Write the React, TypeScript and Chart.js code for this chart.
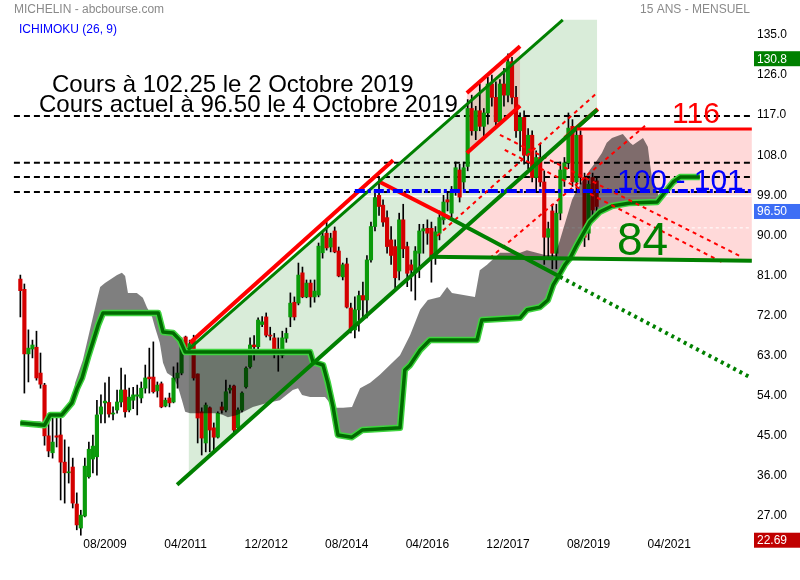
import React, { useEffect, useRef } from 'react';
import { Chart, registerables } from 'chart.js';

Chart.register(...registerables);

const FONT = '"Liberation Sans", Arial, Helvetica, sans-serif';
Chart.defaults.font.family = FONT;

// ---- texts ----
const TITLE = 'MICHELIN - abcbourse.com';
const SUBTITLE = '15 ANS - MENSUEL';
const INDICATOR = 'ICHIMOKU (26, 9)';
const NOTE_1 = 'Cours à 102.25 le 2 Octobre 2019';
const NOTE_2 = 'Cours actuel à 96.50 le 4 Octobre 2019';

// ---- axes (x = months counted from Jan 2000) ----
const X_TICKS = [115, 135, 155, 175, 195, 215, 235, 255];
const Y_TICKS = [27, 36, 45, 54, 63, 72, 81, 90, 99, 108, 117, 126, 135];
const X_MIN = 88.95;
const X_MAX = 275.55;
const Y_MIN = 22.29;
const Y_MAX = 142.86;

// ---- monthly candles, Nov 2007 .. Oct 2019 ----
const FIRST_MONTH = 94;
const OPEN = [
  80.2, 77.9, 63.4, 64.5, 64.9, 59.1, 56.4, 45.0, 41.2, 45.0,
  45.2, 39.1, 36.7, 38.0, 29.7, 24.3, 27.0, 35.8, 39.8, 40.3,
  49.9, 52.4, 52.5, 49.9, 50.8, 52.6, 55.3, 50.8, 53.0, 53.9,
  53.5, 55.7, 58.2, 58.2, 55.1, 56.7, 51.7, 53.5, 52.6, 58.0,
  59.1, 67.2, 63.8, 66.5, 58.9, 50.4, 43.4, 51.3, 46.8, 44.7,
  51.5, 50.8, 55.3, 56.2, 46.8, 50.8, 56.0, 60.5, 65.4, 65.0,
  70.0, 71.7, 67.6, 67.0, 64.5, 63.1, 66.9, 71.7, 75.0, 74.8,
  81.6, 76.2, 79.3, 76.2, 76.6, 86.1, 90.5, 87.4, 91.0, 86.5,
  80.7, 83.6, 73.7, 68.8, 73.3, 76.5, 75.5, 84.5, 92.0, 99.0,
  96.8, 94.0, 89.0, 87.5, 82.0, 93.5, 87.5, 83.4, 82.0, 86.0,
  91.0, 91.6, 91.6, 85.5, 90.5, 93.5, 98.0, 95.0, 100.5, 104.7,
  102.0, 105.5, 118.5, 113.5, 118.0, 114.5, 117.5, 124.0, 121.0, 115.5,
  124.0, 121.5, 129.0, 121.0, 113.5, 116.5, 108.0, 112.5, 103.0, 107.5,
  102.0, 89.6, 95.5, 86.0, 95.0, 102.5, 106.3, 114.5, 102.0, 112.5,
  103.0, 90.5, 103.0, 102.25,
];
const HIGH = [
  81.1, 79.1, 68.8, 66.5, 68.5, 63.6, 56.8, 49.2, 49.2, 49.0,
  49.0, 44.1, 42.5, 40.0, 32.2, 28.3, 40.0, 43.6, 45.2, 53.0,
  54.2, 56.9, 58.2, 51.5, 55.3, 60.2, 58.7, 55.7, 55.9, 56.4,
  57.1, 60.9, 64.7, 66.1, 57.1, 57.1, 53.5, 54.6, 60.5, 61.4,
  67.0, 67.4, 66.5, 67.6, 58.9, 51.3, 52.4, 51.5, 47.9, 50.4,
  52.6, 57.5, 56.4, 56.4, 51.3, 54.9, 60.5, 67.0, 67.5, 71.5,
  71.8, 72.6, 69.4, 68.0, 67.0, 68.5, 69.2, 77.1, 76.2, 83.8,
  82.9, 80.0, 80.0, 80.0, 88.3, 90.8, 93.0, 90.5, 91.9, 87.4,
  83.8, 84.9, 74.8, 76.2, 77.5, 79.5, 85.5, 93.0, 99.5, 103.0,
  98.0, 95.5, 92.0, 89.0, 95.0, 97.0, 88.5, 84.5, 87.5, 92.5,
  92.5, 93.5, 93.0, 92.0, 95.5, 99.0, 99.5, 101.0, 106.5, 106.0,
  106.5, 120.5, 121.5, 119.0, 124.0, 118.5, 125.5, 126.0, 124.5, 125.0,
  127.5, 130.8, 130.0, 123.5, 117.5, 118.0, 114.0, 113.5, 109.0, 110.5,
  104.5, 93.0, 97.0, 97.0, 106.5, 107.5, 117.5, 116.0, 114.0, 113.5,
  104.0, 103.0, 104.0, 103.0,
];
const LOW = [
  71.7, 54.6, 57.1, 62.5, 57.5, 55.7, 42.9, 40.3, 40.0, 42.5,
  30.6, 29.9, 34.4, 28.8, 23.9, 22.69, 26.8, 35.5, 36.7, 36.2,
  47.9, 47.9, 49.2, 48.6, 50.1, 51.5, 49.2, 50.4, 51.1, 49.7,
  52.4, 54.6, 54.6, 54.6, 53.7, 51.3, 51.5, 51.5, 52.4, 55.7,
  58.7, 63.6, 63.6, 57.5, 43.4, 40.7, 41.4, 41.4, 41.4, 44.5,
  50.1, 50.4, 54.6, 45.9, 46.3, 50.4, 55.7, 60.2, 62.0, 64.5,
  69.5, 67.2, 66.5, 62.5, 59.5, 62.5, 66.0, 69.5, 71.0, 74.4,
  76.0, 76.0, 73.9, 75.0, 76.2, 84.9, 86.7, 86.3, 86.1, 80.7,
  80.0, 73.7, 68.1, 67.0, 68.5, 71.0, 71.5, 84.0, 91.0, 94.5,
  92.0, 86.0, 83.5, 77.5, 80.0, 85.0, 78.5, 77.5, 75.5, 80.5,
  86.0, 88.0, 79.5, 83.5, 89.0, 92.5, 95.5, 93.5, 99.0, 97.5,
  100.5, 104.5, 112.5, 111.5, 113.5, 111.5, 115.0, 119.0, 114.0, 115.0,
  119.0, 120.0, 119.5, 112.0, 109.0, 106.0, 105.0, 102.0, 100.0, 101.0,
  83.5, 85.0, 82.5, 82.5, 93.5, 101.0, 105.0, 101.0, 100.0, 101.5,
  87.5, 89.0, 94.5, 95.0,
];
const CLOSE = [
  77.6, 63.4, 64.7, 65.4, 58.0, 56.6, 45.0, 41.6, 43.6, 44.7,
  39.1, 36.7, 36.9, 29.9, 25.0, 27.2, 38.2, 42.0, 42.7, 49.7,
  51.5, 52.8, 49.9, 50.1, 52.6, 55.3, 50.4, 53.7, 54.2, 54.2,
  55.7, 58.0, 57.8, 54.9, 56.4, 51.5, 53.0, 52.4, 58.0, 59.1,
  66.5, 63.8, 65.7, 58.0, 49.0, 44.5, 51.9, 46.3, 44.7, 50.1,
  50.8, 54.9, 55.7, 46.3, 50.8, 54.6, 60.2, 65.4, 65.0, 71.0,
  70.6, 67.6, 67.4, 64.3, 63.5, 67.0, 68.0, 74.8, 71.7, 81.1,
  76.2, 79.3, 76.2, 77.5, 87.6, 89.9, 87.2, 89.4, 86.3, 80.9,
  83.4, 73.9, 68.8, 73.3, 76.5, 75.5, 84.5, 92.0, 98.5, 96.5,
  93.0, 87.5, 85.5, 80.5, 93.5, 87.0, 81.5, 82.2, 86.5, 91.0,
  91.5, 90.5, 85.2, 90.8, 94.0, 97.5, 97.5, 99.5, 105.2, 98.6,
  105.2, 118.5, 113.5, 118.0, 114.5, 117.5, 124.0, 121.0, 115.5, 124.0,
  121.5, 129.0, 121.0, 113.5, 116.5, 108.0, 112.5, 103.0, 107.5, 102.0,
  89.6, 91.5, 86.0, 95.0, 104.7, 106.3, 114.1, 102.0, 112.5, 103.0,
  89.6, 101.5, 95.7, 96.5,
];

// ---- Ichimoku cloud spans [month, price] ----
const SPAN_B = [
  [94, 47.9], [100, 47.4], [101.4, 49.7], [104.3, 49.7], [106.8, 52.4], [108.1, 55.7], [109.3, 58.0],
  [110.8, 62.7], [112.0, 66.1], [113.3, 69.9], [114.5, 72.6], [128.2, 72.6], [129.4, 68.3], [131.9, 68.1],
  [133.6, 66.5], [134.9, 63.8], [165.9, 63.8], [166.6, 61.6], [169.1, 60.9], [170.3, 56.9], [171.6, 51.5],
  [172.8, 45.2], [176.3, 44.7], [178.8, 46.3], [188.2, 46.8], [189.4, 59.8], [190.7, 60.9], [193.2, 64.3],
  [195.6, 66.5], [207.3, 66.5], [208.5, 71.0], [218.0, 71.5], [219.7, 73.3], [222.9, 73.9], [224.9, 75.5],
  [226.2, 78.9], [227.4, 80.7], [229.1, 83.4], [230.4, 84.9], [232.1, 87.9], [233.6, 90.3], [235.3, 93.0],
  [237.8, 95.3], [240.8, 96.6], [245.3, 97.3], [252.0, 97.5], [254.4, 100.2], [256.0, 102.0], [257.7, 103.1],
  [262.6, 103.1],
];
const SPAN_A = [
  [94, 48.3], [98.9, 48.3], [100.1, 47.4], [101.4, 49.7], [104.3, 49.7], [106.8, 52.4], [107.6, 56.9],
  [109.5, 62.0], [113.0, 75.5], [113.8, 78.4], [115.0, 79.3], [118.0, 81.1], [119.2, 81.6], [120.0, 80.9],
  [120.7, 77.1], [122.9, 77.1], [124.4, 76.0], [125.4, 73.9], [126.7, 71.7], [127.4, 69.4], [128.6, 65.9],
  [129.4, 61.4], [130.4, 59.1], [131.9, 58.2], [133.1, 56.0], [134.1, 53.0], [134.9, 50.4], [136.1, 50.1],
  [142.8, 50.1], [144.3, 49.7], [145.5, 49.2], [147.8, 49.7], [151.7, 51.5], [155.2, 52.4], [158.4, 53.0],
  [161.6, 55.3], [162.9, 55.7], [163.9, 54.2], [165.9, 53.7], [169.6, 53.7], [170.8, 52.4], [172.1, 51.3],
  [174.1, 51.3], [176.3, 51.5], [177.0, 53.0], [178.3, 55.7], [180.8, 56.9], [183.2, 58.7], [185.7, 60.9],
  [188.2, 63.1], [190.7, 67.6], [193.2, 73.3], [195.1, 75.5], [198.1, 76.2], [199.9, 78.4], [201.1, 77.1],
  [206.8, 76.2], [208.0, 82.2], [209.8, 83.4], [213.0, 86.1], [218.0, 86.1], [219.7, 86.7], [224.2, 85.6],
  [226.7, 85.6], [227.9, 89.0], [229.6, 94.1], [230.9, 98.0], [232.1, 100.2], [233.6, 102.4], [235.3, 104.7],
  [237.1, 106.9], [238.3, 108.5], [239.5, 110.8], [240.8, 111.9], [243.5, 112.8], [245.3, 110.8], [246.0, 110.3],
  [248.5, 111.9], [249.7, 109.9], [250.2, 106.3], [250.7, 103.1], [252.0, 100.2], [252.7, 97.5], [254.4, 100.2],
  [256.0, 102.0], [257.7, 103.1], [262.6, 103.1],
];

// ---- drawn analysis [month, price] ----
const CHANNEL_ZONE = [[135.8, 64.3], [228.6, 138.4], [237.1, 138.4], [237.1, 118.2], [135.8, 36.5]];
const CHANNEL_UPPER = [[135.6, 64.3], [228.6, 138.4]];
const CHANNEL_LOWER = [[132.9, 34.0], [237.1, 118.2]];
const RED_UPPER = [[136.1, 65.9], [186.5, 106.9]];
const TOP_CH_UPPER = [[204.8, 122.0], [218.0, 132.5]];
const TOP_CH_LOWER = [[204.8, 108.5], [218.0, 119.1]];
const RED_END = [[229.1, 111.9], [237.3, 118.4]];
const FALL_RED = [[183.2, 102.0], [200.6, 93.9]];
const FALL_GREEN = [[199.4, 94.4], [227.9, 80.7]];
const FALL_DOTTED = [[227.9, 80.7], [275.0, 58.2]];
const SUPPORT_84 = [[195.6, 85.2], [275.5, 84.3]];
const RESIST_116 = [[232.1, 113.9], [275.5, 113.9]];
const PINK_ZONE = [[195.9, 84.9], [232.1, 113.9], [275.5, 113.9], [275.5, 84.3], [195.9, 84.7]];
const DASHED_LEVELS = [116.8, 106.3, 103.1, 99.75];
const BLUE_LEVEL = [[177.0, 100.0], [275.5, 100.0]];
const WHITE_LINE = [[177.0, 98.8], [275.5, 98.8]];
const WHITE_DASH = [[208.5, 91.7], [275.5, 91.7]];
const RED_DASHED = [
  [[197.4, 89.9], [237.1, 122.0]],
  [[210.5, 84.9], [249.0, 114.6]],
  [[213.0, 112.6], [272.5, 85.4]],
  [[214.2, 109.2], [268.1, 84.0]],
];
const LAST_HIGH = 130.8;
const LAST_PRICE = 96.5;
const LOWEST = 22.69;

const pts = (a: number[][]) => a.map(([x, y]) => ({ x, y }));
const monthLabel = (m: number) => {
  const y = 2000 + Math.floor(m / 12);
  const mo = (m % 12) + 1;
  return String(mo).padStart(2, '0') + '/' + y;
};

function line(data: number[][], color: string, width: number, order: number, extra: any = {}) {
  return {
    type: 'line', data: pts(data), borderColor: color, borderWidth: width, pointRadius: 0,
    fill: false, tension: 0, order, ...extra,
  };
}
function shape(data: number[][], color: string, order: number) {
  return {
    type: 'line', data: pts(data), backgroundColor: color, borderColor: 'rgba(0,0,0,0)', borderWidth: 0,
    pointRadius: 0, fill: 'shape', tension: 0, order,
  };
}

const overlay = {
  id: 'overlay',
  afterDatasetsDraw(chart: any) {
    const ctx = chart.ctx;
    ctx.save();
    const txt = (s: string, x: number, y: number, size: number, color: string, align = 'left') => {
      ctx.font = `${size}px ${FONT}`;
      ctx.fillStyle = color;
      ctx.textAlign = align;
      ctx.textBaseline = 'alphabetic';
      ctx.fillText(s, x, y);
    };
    txt(TITLE, 14, 13, 12, '#8a8a8a');
    txt(SUBTITLE, 750, 13, 12, '#8a8a8a', 'right');
    txt(INDICATOR, 19, 33, 12, '#0000ff');
    txt(NOTE_1, 52, 92, 24, '#000000');
    txt(NOTE_2, 39, 112, 24, '#000000');
    txt('116', 672, 123, 30, '#ff0000');
    txt('100 - 101', 617, 190, 30, '#0000ff');
    txt('84', 617, 255, 46, '#008000');
    ctx.restore();
  },
  afterDraw(chart: any) {
    const ctx = chart.ctx;
    const ys = chart.scales.y;
    ctx.save();
    const box = (v: number, color: string, label: string) => {
      const py = ys.getPixelForValue(v) + 5;
      ctx.fillStyle = color;
      ctx.fillRect(754, py - 7.5, 46, 15);
      ctx.fillStyle = '#ffffff';
      ctx.font = `12px ${FONT}`;
      ctx.textAlign = 'left';
      ctx.textBaseline = 'middle';
      ctx.fillText(label, 757, py + 0.5);
    };
    box(LAST_HIGH, '#008000', LAST_HIGH.toFixed(1));
    box(LAST_PRICE, '#3d6ef5', LAST_PRICE.toFixed(2));
    box(LOWEST, '#c00000', LOWEST.toFixed(2));
    ctx.restore();
  },
};

export default function App() {
  const ref = useRef<HTMLCanvasElement>(null);
  useEffect(() => {
    const months = OPEN.map((_, i) => FIRST_MONTH + i);
    const wicks = months.map((m, i) => ({ x: m, y: [LOW[i], HIGH[i]] }));
    const bodies = months.map((m, i) => ({ x: m, y: [OPEN[i], CLOSE[i]] }));
    const bodyColors = months.map((_, i) => (CLOSE[i] >= OPEN[i] ? '#0a9a0a' : '#d40000'));
    const cloud = [...SPAN_A, ...[...SPAN_B].reverse()];
    const topChannel = [...TOP_CH_UPPER, ...[...TOP_CH_LOWER].reverse()];

    const datasets: any[] = [
      shape(CHANNEL_ZONE, 'rgba(0,128,0,0.15)', 100),
      shape(PINK_ZONE, 'rgba(255,0,0,0.15)', 99),
      shape(topChannel, 'rgba(255,0,0,0.15)', 98),
      line(WHITE_LINE, '#ffffff', 1.5, 96),
      line(WHITE_DASH, '#ffffff', 1, 96, { borderDash: [3, 3] }),
      ...DASHED_LEVELS.map((v) => line([[92.4, v], [275.55, v]], '#000000', 2, 95, { borderDash: [6, 4] })),
      {
        type: 'bar', data: wicks, backgroundColor: '#000000', barThickness: 1, grouped: false, order: 90,
      },
      {
        type: 'bar', data: bodies, backgroundColor: bodyColors, barThickness: 3.5, minBarLength: 1,
        grouped: false, order: 89,
      },
      shape(cloud, 'rgba(0,0,0,0.5)', 80),
      line(SPAN_B, '#3fd43f', 6.5, 71, { borderJoinStyle: 'round' }),
      line(SPAN_B, '#006a00', 3.5, 70, { borderJoinStyle: 'round' }),
      ...RED_DASHED.map((d) => line(d, '#ff0000', 2, 60, { borderDash: [4, 4] })),
      line(CHANNEL_UPPER, '#008000', 3, 50),
      line(CHANNEL_LOWER, '#008000', 4, 50),
      line(RED_UPPER, '#ff0000', 4, 50),
      line(TOP_CH_UPPER, '#ff0000', 4, 50),
      line(TOP_CH_LOWER, '#ff0000', 4, 50),
      line(RED_END, '#ff0000', 4, 50),
      line(FALL_RED, '#ff0000', 4, 50),
      line(FALL_GREEN, '#008000', 4, 50),
      line(FALL_DOTTED, '#008000', 4, 50, { borderDash: [3, 4] }),
      line(SUPPORT_84, '#008000', 4, 49),
      line(RESIST_116, '#ff0000', 3, 49),
      line(BLUE_LEVEL, '#0000ff', 4, 45, { borderDash: [10, 3, 3, 3] }),
    ];

    const chart = new Chart(ref.current as HTMLCanvasElement, {
      type: 'line',
      data: { datasets },
      options: {
        animation: false,
        responsive: false,
        devicePixelRatio: 1,
        events: [],
        layout: { padding: 0 },
        plugins: { legend: { display: false }, tooltip: { enabled: false } },
        scales: {
          x: {
            type: 'linear', min: X_MIN, max: X_MAX, offset: false,
            grid: { display: false, drawTicks: false }, border: { display: false },
            ticks: {
              autoSkip: false, maxRotation: 0, padding: 0, color: '#000000', font: { size: 12 },
              callback: (v: any) => monthLabel(Number(v)),
            },
            afterBuildTicks: (s: any) => { s.ticks = X_TICKS.map((v) => ({ value: v })); },
            afterFit: (s: any) => { s.height = 43; s.paddingLeft = 0; s.paddingRight = 0; },
          },
          y: {
            type: 'linear', position: 'right', min: Y_MIN, max: Y_MAX,
            grid: { display: false, drawTicks: false }, border: { display: false },
            ticks: {
              padding: 5, color: '#000000', font: { size: 12 },
              callback: (v: any) => (Number(v) >= 100 ? Number(v).toFixed(1) : Number(v).toFixed(2)),
            },
            afterBuildTicks: (s: any) => { s.ticks = Y_TICKS.map((v) => ({ value: v })); },
            afterFit: (s: any) => { s.width = 48; s.paddingTop = 0; s.paddingBottom = 0; },
          },
        },
      } as any,
      plugins: [overlay],
    } as any);
    return () => chart.destroy();
  }, []);

  return (
    <div style={{ position: 'absolute', left: 0, top: 0, width: 800, height: 580, background: '#ffffff' }}>
      <canvas ref={ref} width={800} height={580} style={{ display: 'block' }} />
    </div>
  );
}
